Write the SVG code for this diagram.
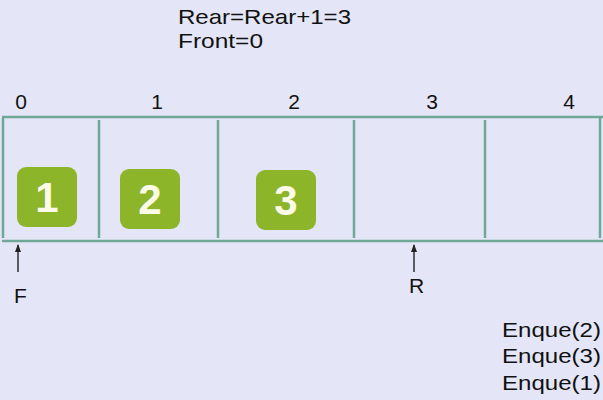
<svg xmlns="http://www.w3.org/2000/svg" width="603" height="400" viewBox="0 0 603 400">
<defs>
<style>
.t{font-family:"Liberation Sans",Arial,sans-serif;font-size:21px;fill:#111}
.idx{font-family:"Liberation Sans",Arial,sans-serif;font-size:21px;fill:#111;text-anchor:middle}
.ln{stroke:#6fa896;stroke-width:2.5;fill:none}
.box{fill:#8db52a}
.num{font-family:"Liberation Sans",Arial,sans-serif;font-size:42px;font-weight:bold;fill:#fbfbe8;text-anchor:middle}
.arr{stroke:#222;stroke-width:1.4;fill:none}
</style>
<marker id="ah" markerWidth="8" markerHeight="8" refX="7" refY="3" orient="auto" markerUnits="userSpaceOnUse" viewBox="0 0 8 6">
<path d="M0,0 L8,3 L0,6 Z" fill="#222"/>
</marker>
</defs>
<rect width="603" height="400" fill="#e4e6f7"/>
<text class="t" x="178" y="24" textLength="173" lengthAdjust="spacingAndGlyphs">Rear=Rear+1=3</text>
<text class="t" x="178" y="48" textLength="85" lengthAdjust="spacingAndGlyphs">Front=0</text>
<g id="indices">
<text class="idx" x="21" y="109">0</text>
<text class="idx" x="157" y="109">1</text>
<text class="idx" x="294" y="109">2</text>
<text class="idx" x="432" y="109">3</text>
<text class="idx" x="569" y="109">4</text>
</g>
<g id="queue">
<line class="ln" x1="2" y1="117" x2="603" y2="117"/>
<line class="ln" x1="2" y1="241" x2="603" y2="241"/>
<line class="ln" x1="3" y1="118" x2="3" y2="238"/>
<line class="ln" x1="99" y1="120" x2="99" y2="238"/>
<line class="ln" x1="218" y1="120" x2="218" y2="238"/>
<line class="ln" x1="354" y1="120" x2="354" y2="238"/>
<line class="ln" x1="485" y1="120" x2="485" y2="238"/>
<line class="ln" x1="600" y1="118" x2="600" y2="238"/>
</g>
<g id="item1">
<rect class="box" x="17" y="167" width="60" height="60" rx="9"/>
<text class="num" x="47" y="212">1</text>
</g>
<g id="item2">
<rect class="box" x="120" y="169" width="60" height="60" rx="9"/>
<text class="num" x="150" y="214">2</text>
</g>
<g id="item3">
<rect class="box" x="256" y="170" width="60" height="60" rx="9"/>
<text class="num" x="286" y="215">3</text>
</g>
<g id="connectors">
<line class="arr" x1="18" y1="272" x2="18" y2="245" marker-end="url(#ah)"/>
<line class="arr" x1="414" y1="272" x2="414" y2="245" marker-end="url(#ah)"/>
</g>
<g id="pointers">
<text class="t" x="14" y="303">F</text>
<text class="t" x="409" y="293">R</text>
</g>
<g id="ops">
<text class="t" x="502" y="337" textLength="99" lengthAdjust="spacingAndGlyphs">Enque(2)</text>
<text class="t" x="502" y="363" textLength="99" lengthAdjust="spacingAndGlyphs">Enque(3)</text>
<text class="t" x="502" y="390" textLength="99" lengthAdjust="spacingAndGlyphs">Enque(1)</text>
</g>
</svg>
